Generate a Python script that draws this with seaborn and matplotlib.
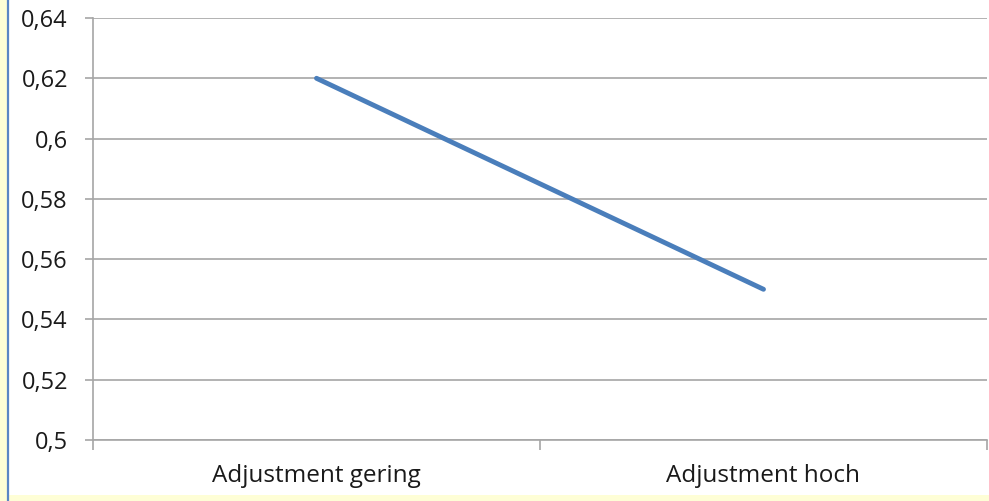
import matplotlib
matplotlib.use("Agg")
import matplotlib.pyplot as plt
from matplotlib.patches import Rectangle
from matplotlib.lines import Line2D
from matplotlib.ticker import FixedLocator
import seaborn as sns
import pandas as pd

categories = ["Adjustment gering", "Adjustment hoch"]
values = [0.62, 0.55]
y_ticks = [0.50, 0.52, 0.54, 0.56, 0.58, 0.60, 0.62, 0.64]
y_tick_labels = ["0,5", "0,52", "0,54", "0,56", "0,58", "0,6", "0,62", "0,64"]

sns.set_theme(style="white")
plt.rcParams["font.family"] = ["Open Sans", "DejaVu Sans"]

W, H = 989, 501
fig = plt.figure(figsize=(W / 100, H / 100), dpi=100)
fig.patch.set_facecolor("#FEFED6")

# white panel with blue left edge
fig.patches.append(Rectangle((9 / W, 6 / H), 1 - 9 / W, 1 - 6 / H,
                             transform=fig.transFigure, facecolor="white",
                             edgecolor="none", zorder=-5))
fig.lines.append(Line2D([7.5 / W, 7.5 / W], [0, 1], transform=fig.transFigure,
                        color="#5B86C5", linewidth=1.6, zorder=-4))

ax = fig.add_axes([93 / W, 1 - 440 / H, (987 - 93) / W, (440 - 18) / H])
ax.set_facecolor("none")
ax.set_zorder(1)

df = pd.DataFrame({"Kategorie": categories, "Wert": values})
sns.lineplot(data=df, x="Kategorie", y="Wert", ax=ax, color="#4A7EBB",
             linewidth=3.5, solid_capstyle="round")

ax.set_xlim(-0.5, 1.5)
ax.set_ylim(0.5, 0.64)
ax.set_xlabel("")
ax.set_ylabel("")

ax.set_yticks(y_ticks)
ax.set_yticklabels(y_tick_labels)
ax.yaxis.grid(True, color="#A6A6A6", linewidth=1.2)
ax.set_axisbelow(True)

ax.set_xticks([0, 1])
ax.set_xticklabels(categories)
ax.xaxis.set_minor_locator(FixedLocator([-0.5, 0.5, 1.5]))

ax.tick_params(axis="y", which="major", left=True, length=6, width=1.2,
               color="#A6A6A6", labelsize=17, labelcolor="#1A1A1A", pad=12)
ax.tick_params(axis="x", which="major", bottom=True, length=0,
               labelsize=17.5, labelcolor="#1A1A1A", pad=17)
ax.tick_params(axis="x", which="minor", bottom=True, length=7, width=1.2,
               color="#A6A6A6")

for side in ["top", "right"]:
    ax.spines[side].set_visible(False)
for side in ["left", "bottom"]:
    ax.spines[side].set_color("#A6A6A6")
    ax.spines[side].set_linewidth(1.2)

fig.savefig("out.png", dpi=100, facecolor=fig.get_facecolor())
